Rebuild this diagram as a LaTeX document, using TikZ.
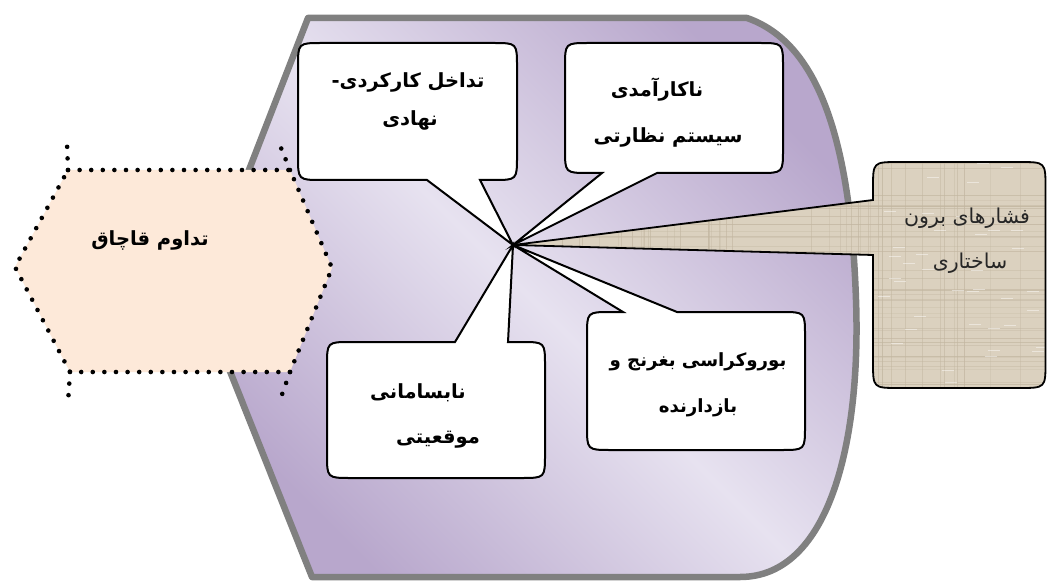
\documentclass[tikz,border=0pt]{standalone}
\usepackage{fontspec}
\TeXXeTstate=1
\newfontfamily\fa[Script=Arabic]{DejaVu Sans}
\definecolor{outlinegray}{HTML}{808080}
\definecolor{purpD}{HTML}{B8A7CC}
\definecolor{purpL}{HTML}{E7E2F0}
\definecolor{peach}{HTML}{FDE9D9}
\definecolor{beige}{HTML}{DBD1BF}
\definecolor{beigeline}{HTML}{C2B6A0}
\begin{document}
\begin{tikzpicture}[x=1pt,y=-1pt,
  cbox/.style={draw=black, line width=2pt, fill=white, line join=miter},
  bbox/.style={draw=black, line width=1.8pt, line join=miter},
  dotline/.style={line width=4.6pt, line cap=round, dash pattern=on 0pt off 11.6pt},
  btext/.style={font=\fa\bfseries\fontsize{19.5}{22}\selectfont, inner sep=0pt},
  stext/.style={font=\fa\bfseries\fontsize{18.2}{22}\selectfont, inner sep=0pt},
  rtext/.style={font=\fa\fontsize{20.5}{23}\selectfont, inner sep=0pt, text=black!85}]
\useasboundingbox (0,0) rectangle (1048,585);
\fill[white] (0,0) rectangle (1048,585);
\coordinate (focus) at (513,245);

% big background shape
\path[draw=outlinegray, line width=6.5pt, line join=round,
      top color=purpD, bottom color=purpD, middle color=purpL, shading angle=-45]
  (308,18) -- (747,18) .. controls (810,40) and (850,120) .. (856,300)
  .. controls (861,440) and (830,577) .. (740,577) -- (312,577) -- (200,296) -- cycle;

% hexagon
\fill[peach] (68,170) -- (290,170) -- (332,268) -- (290,372) -- (70,372) -- (15,267) -- cycle;
\draw[dotline] (68,170) -- (290,170) -- (332,268) -- (290,372) -- (70,372) -- (15,267) -- cycle;
\draw[dotline] (68,170) -- (67,143);
\draw[dotline] (290,170) -- (279,143);
\draw[dotline] (70,372) -- (68,403);
\draw[dotline] (290,372) -- (279,403);
\node[btext] (hex) at (150,240) {\beginR تداوم قاچاق\endR};

% beige callout
\def\beigepath{(873,255) -- (focus) -- (873,200) -- (873,188) .. controls (873,162) .. (899,162)
  -- (1019,162) .. controls (1045.5,162) .. (1045.5,188) -- (1045.5,362) .. controls (1045.5,388) .. (1019,388)
  -- (899,388) .. controls (873,388) .. (873,362) -- cycle}
\fill[beige] \beigepath;
\begin{scope}
  \clip \beigepath;
  \pgfmathsetseed{11}
  \foreach \i in {1,...,45}{
    \pgfmathsetmacro\xx{560+rnd*490}
    \pgfmathsetmacro\op{0.25+0.5*rnd}
    \draw[beigeline, line width=1pt, opacity=\op] (\xx,150) -- (\xx,400);
  }
  \foreach \i in {1,...,40}{
    \pgfmathsetmacro\yy{160+rnd*230}
    \pgfmathsetmacro\op{0.25+0.5*rnd}
    \draw[beigeline, line width=1pt, opacity=\op] (500,\yy) -- (1048,\yy);
  }
  \foreach \i in {1,...,40}{
    \pgfmathsetmacro\yy{160+rnd*230}
    \pgfmathsetmacro\xx{870+rnd*170}
    \draw[white, line width=1pt, opacity=0.45] (\xx,\yy) -- (\xx+12,\yy);
  }
\end{scope}
\draw[bbox] \beigepath;

% top-left callout
\draw[cbox] (480,180) -- (focus) -- (427,180) -- (322,180) .. controls (298,180) .. (298,156)
  -- (298,67) .. controls (298,43) .. (322,43) -- (493,43) .. controls (517,43) .. (517,67)
  -- (517,156) .. controls (517,180) .. (493,180) -- cycle;
% top-right callout
\draw[cbox] (657,173) -- (focus) -- (602,173) -- (589,173) .. controls (565,173) .. (565,149)
  -- (565,67) .. controls (565,43) .. (589,43) -- (759,43) .. controls (783,43) .. (783,67)
  -- (783,149) .. controls (783,173) .. (759,173) -- cycle;
% bottom-right callout
\draw[cbox] (623,312) -- (focus) -- (677,312) -- (781,312) .. controls (805,312) .. (805,336)
  -- (805,426) .. controls (805,450) .. (781,450) -- (611,450) .. controls (587,450) .. (587,426)
  -- (587,336) .. controls (587,312) .. (611,312) -- cycle;
% bottom-left callout
\draw[cbox] (455,342) -- (focus) -- (508,342) -- (521,342) .. controls (545,342) .. (545,366)
  -- (545,454) .. controls (545,478) .. (521,478) -- (351,478) .. controls (327,478) .. (327,454)
  -- (327,366) .. controls (327,342) .. (351,342) -- cycle;

% texts
\node[btext] (tla) at (408,82) {\beginR تداخل کارکردی-\endR};
\node[btext] (tlb) at (410,120) {\beginR نهادی\endR};
\node[btext] (tra) at (657,90) {\beginR ناکارآمدی\endR};
\node[btext] (trb) at (668,137) {\beginR سیستم نظارتی\endR};
\node[rtext] (bga) at (967,218) {\beginR فشارهای برون\endR};
\node[rtext] (bgb) at (970,263) {\beginR ساختاری\endR};
\node[stext] (bra) at (698,362) {\beginR بوروکراسی بغرنج و\endR};
\node[stext] (brb) at (698,408) {\beginR بازدارنده\endR};
\node[btext] (bla) at (418,393) {\beginR نابسامانی\endR};
\node[btext] (blb) at (438,440) {\beginR موقعیتی\endR};
\end{tikzpicture}
\end{document}
